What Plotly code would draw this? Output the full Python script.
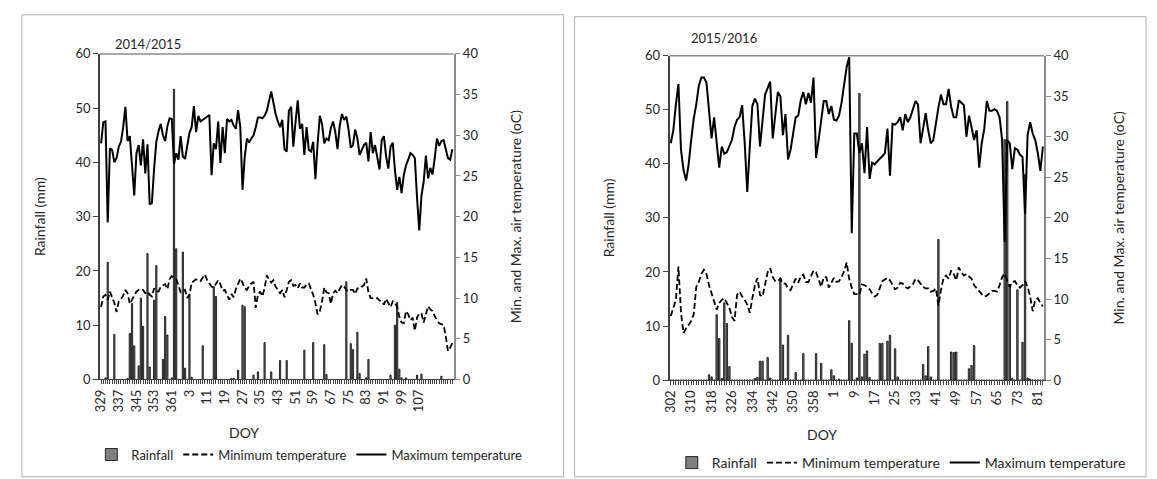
import plotly.graph_objects as go

W, H = 1157, 479

# ---------------- data: season 2014/2015 ----------------
doy1 = list(range(329, 367)) + list(range(1, 123))
xticks1 = [329, 337, 345, 353, 361, 3, 11, 19, 27, 35, 43, 51, 59, 67, 75, 83, 91, 99, 107]

rain1 = [0, 0, 0.3, 21.6, 0, 0, 8.3, 0, 0, 0,
         0, 0, 0.2, 8.5, 14.0, 6.2, 0, 2.5, 15.0, 9.8,
         0, 23.2, 2.3, 0, 14.6, 21.0, 0, 0, 3.7, 11.6,
         8.2, 0, 0.3, 53.5, 24.1, 0, 0, 23.5, 2.1, 0,
         15.5, 0.4, 0, 0, 0, 0, 6.2, 0, 0, 0,
         0, 17.1, 15.3, 0, 0, 0, 0, 0, 0, 0.2,
         0.2, 0, 1.7, 0, 13.7, 13.4, 0, 0, 0, 0.8,
         0, 1.4, 0, 0, 6.8, 0, 0, 1.4, 0, 0,
         0, 3.5, 0, 0, 3.5, 0, 0, 0, 0, 0,
         0, 0, 5.4, 0, 0, 0, 6.8, 0, 0, 0,
         0, 6.4, 0.9, 0, 0, 0, 0, 0, 0, 0,
         0, 18.0, 0, 6.6, 5.5, 0, 8.7, 1.1, 0, 0,
         0.3, 3.7, 0, 0, 0, 0, 0, 0, 0, 0,
         0, 0.8, 0, 10.0, 14.2, 1.9, 0.3, 0, 0.3, 0,
         0, 0, 0, 0.8, 0, 1.0, 0, 0, 0, 0,
         0, 0, 0, 0, 0.6, 0, 0, 0, 0, 0]

tmin1 = [8.9, 10.2, 10.4, 9.8, 10.8, 10.2, 9.4, 8.3, 9.6, 9.9,
         10.3, 11.0, 10.6, 9.3, 9.8, 10.4, 10.8, 11.0, 11.1, 11.0,
         10.6, 10.8, 10.4, 10.2, 11.2, 10.9, 10.8, 11.4, 11.6, 11.7,
         11.1, 12.3, 12.7, 12.5, 12.3, 11.6, 10.7, 10.8, 11.0, 10.0,
         10.4, 11.9, 12.1, 12.3, 12.2, 12.1, 12.5, 12.9, 12.2, 11.8,
         11.4, 11.3, 11.8, 12.2, 11.7, 10.9, 11.0, 10.4, 9.8, 10.5,
         10.1, 11.1, 11.8, 12.4, 11.9, 11.2, 11.0, 11.5, 11.8, 12.0,
         8.8, 10.4, 10.8, 10.2, 11.2, 12.8, 12.3, 11.9, 12.2, 11.4,
         11.0, 10.6, 11.0, 10.1, 11.0, 12.0, 12.2, 11.5, 11.6, 11.2,
         11.8, 11.3, 11.3, 11.7, 11.8, 11.2, 10.4, 9.4, 8.0, 8.4,
         9.6, 11.3, 10.7, 10.6, 9.3, 10.6, 10.9, 10.6, 11.1, 11.6,
         11.4, 11.0, 10.8, 11.0, 11.0, 10.5, 11.2, 11.2, 11.4, 11.6,
         12.4, 10.7, 10.0, 10.0, 9.9, 10.0, 9.7, 9.6, 9.2, 9.9,
         9.4, 8.9, 9.6, 9.4, 8.9, 7.7, 7.0, 6.9, 8.4, 8.0,
         7.3, 7.6, 6.0, 7.6, 8.1, 8.1, 7.0, 8.0, 9.0, 8.6,
         8.4, 7.8, 7.3, 6.9, 6.8, 6.7, 5.3, 3.5, 3.9, 4.5]

tmax1 = [29.0, 31.6, 31.7, 19.3, 28.4, 28.2, 26.7, 27.2, 28.6, 29.2,
         31.0, 33.5, 29.3, 29.9, 26.3, 22.6, 27.8, 28.8, 26.3, 29.5,
         25.3, 28.9, 21.5, 21.7, 25.9, 29.2, 30.5, 31.4, 30.0, 29.3,
         31.1, 32.1, 32.0, 26.5, 27.8, 27.0, 29.9, 27.4, 27.1, 29.0,
         30.3, 31.0, 33.6, 30.4, 32.4, 31.7, 31.9, 32.1, 32.3, 32.5,
         25.1, 29.0, 28.3, 31.7, 26.6, 31.0, 27.8, 32.0, 31.7, 31.9,
         31.2, 30.8, 33.1, 31.0, 23.3, 27.3, 29.6, 29.1, 29.6, 30.0,
         31.0, 32.2, 32.2, 32.1, 32.4, 33.0, 34.2, 35.4, 34.0, 32.6,
         31.7, 31.0, 31.9, 28.3, 28.0, 33.0, 33.5, 28.6, 31.6, 34.3,
         30.8, 31.4, 27.6, 31.0, 28.2, 28.0, 29.2, 24.6, 29.0, 32.4,
         31.4, 29.0, 29.6, 29.4, 30.9, 31.7, 30.4, 28.3, 31.2, 32.6,
         31.9, 32.3, 30.7, 28.5, 28.8, 30.7, 29.6, 27.6, 28.2, 28.8,
         29.1, 26.8, 30.4, 27.8, 28.8, 27.2, 25.8, 29.4, 29.9, 27.4,
         25.9, 28.6, 29.1, 25.7, 23.3, 24.9, 22.9, 25.1, 26.3, 27.0,
         27.8, 27.6, 27.2, 22.3, 18.3, 22.6, 24.3, 27.5, 24.7, 26.0,
         25.2, 27.2, 29.6, 28.7, 29.3, 29.4, 28.4, 27.2, 27.0, 28.3]

# ---------------- data: season 2015/2016 ----------------
doy2 = list(range(302, 366)) + list(range(1, 84))
xticks2 = [302, 310, 318, 326, 334, 342, 350, 358, 1, 9, 17, 25, 33, 41, 49, 57, 65, 73, 81]

rain2 = [0, 0, 0, 0, 0, 0, 0, 0, 0, 0,
         0, 0, 0, 0, 0, 1.0, 0.6, 0, 12.1, 7.7,
         0.3, 14.3, 10.5, 2.5, 0, 0, 0, 0, 0, 0,
         0, 0, 0, 0.3, 0.5, 3.5, 3.5, 0, 4.2, 0.4,
         0, 0, 0, 18.9, 6.5, 0.3, 8.3, 0, 0, 1.4,
         0, 0, 4.9, 0, 0, 0, 0, 4.9, 0, 3.1,
         0, 0, 0, 1.9, 0.8, 0, 0.2, 0, 0, 0,
         11.0, 6.8, 0, 0.4, 53.0, 0.6, 4.8, 5.4, 0.5, 0,
         0, 0, 6.8, 6.8, 0, 7.2, 8.3, 0, 5.8, 0.6,
         0, 0, 0, 0, 0, 0, 0, 0, 0, 2.9,
         0.8, 6.2, 0.6, 0, 0, 26.0, 0, 0, 0, 0,
         5.2, 5.1, 5.2, 0, 0, 0, 0, 2.1, 2.7, 6.4,
         0, 0, 0, 0, 0, 0, 0, 0, 0, 0,
         0, 44.5, 51.5, 17.6, 0.3, 0, 16.7, 0, 7.0, 38.0,
         0.4, 0.2, 0, 0, 0, 0, 0]

tmin2 = [7.9, 8.9, 9.9, 14.0, 8.3, 5.8, 6.4, 6.8, 7.3, 8.1,
         11.5, 12.1, 13.1, 13.6, 13.1, 11.7, 10.7, 9.7, 8.7, 9.5,
         9.9, 10.1, 9.5, 8.9, 7.8, 7.3, 10.5, 10.9, 10.3, 9.9,
         9.3, 8.3, 10.1, 11.7, 12.6, 10.5, 10.3, 11.9, 13.3, 13.8,
         12.7, 12.2, 12.2, 12.5, 11.9, 11.9, 11.3, 11.1, 11.9, 12.5,
         12.0, 12.8, 13.0, 12.1, 12.1, 12.9, 13.5, 13.3, 12.5, 11.5,
         12.7, 12.7, 11.4, 12.1, 12.6, 12.1, 12.2, 12.7, 13.4, 14.5,
         12.5, 11.4, 10.6, 10.6, 10.5, 11.8, 11.7, 11.5, 11.2, 10.7,
         10.3, 10.5, 11.5, 12.2, 12.4, 12.6, 12.3, 11.8, 11.2, 11.4,
         12.0, 11.9, 11.5, 11.3, 11.5, 11.8, 12.5, 12.3, 11.9, 11.5,
         11.3, 11.3, 10.9, 11.0, 11.3, 9.2, 11.1, 12.6, 12.9, 12.5,
         13.5, 13.1, 12.3, 13.9, 13.3, 12.9, 13.1, 12.8, 12.5, 11.7,
         11.3, 10.9, 10.6, 10.3, 10.4, 10.7, 11.0, 11.0, 10.9, 11.7,
         12.7, 13.1, 12.3, 11.5, 12.1, 12.2, 11.7, 11.4, 11.7, 12.2,
         11.5, 10.3, 8.5, 9.9, 10.1, 9.5, 9.1]

tmax2 = [29.2, 30.8, 34.0, 36.5, 28.4, 25.9, 24.6, 26.6, 29.6, 32.2,
         34.0, 36.3, 37.3, 37.3, 36.7, 33.6, 29.8, 32.4, 29.0, 26.2,
         28.8, 27.9, 28.1, 28.8, 29.6, 31.2, 32.1, 32.4, 33.9, 29.2,
         23.2, 28.8, 33.8, 34.7, 34.0, 28.8, 32.2, 35.2, 36.0, 36.8,
         29.8, 32.8, 35.5, 35.0, 30.2, 32.8, 27.2, 28.4, 30.4, 32.4,
         32.6, 34.5, 35.5, 34.0, 35.4, 34.2, 37.3, 27.4, 29.6, 32.4,
         34.4, 34.4, 32.8, 33.8, 32.1, 32.0, 32.6, 34.2, 36.7, 38.6,
         39.8, 18.1, 30.4, 30.4, 28.0, 29.2, 25.5, 31.2, 24.8, 26.8,
         26.6, 27.0, 27.3, 27.6, 28.0, 31.0, 25.2, 31.6, 31.5, 31.8,
         32.4, 30.8, 32.8, 31.8, 32.4, 33.4, 34.4, 34.0, 29.2, 31.0,
         32.9, 30.8, 29.2, 29.6, 31.8, 33.6, 35.2, 34.0, 34.0, 35.9,
         33.7, 32.4, 32.4, 34.5, 34.2, 33.9, 30.0, 32.6, 31.2, 29.6,
         30.8, 26.2, 29.2, 31.0, 34.4, 33.2, 33.2, 33.4, 33.2, 32.4,
         29.6, 17.0, 29.6, 29.2, 26.0, 28.6, 28.4, 27.8, 27.5, 20.5,
         30.2, 31.8, 30.4, 29.6, 28.0, 25.8, 28.8]

season_titles = ["2014/2015", "2015/2016"]
series_names = ["Rainfall", "Minimum temperature", "Maximum temperature"]

# ---------------- styling ----------------
FONT = "Lato"
TXT = "#262626"
AX = "#404040"
GRAY_AX = "#8c8c8c"


def px(x):
    return x / W


def py(y):
    return 1 - y / H


fig = go.Figure()

panels = [
    dict(doy=doy1, ticks=xticks1, rain=rain1, tmin=tmin1, tmax=tmax1,
         xa="x", ya="y", ya2="y2", leg="legend"),
    dict(doy=doy2, ticks=xticks2, rain=rain2, tmin=tmin2, tmax=tmax2,
         xa="x2", ya="y3", ya2="y4", leg="legend2"),
]

for p in panels:
    xs = list(range(len(p["doy"])))
    fig.add_trace(go.Bar(
        x=xs, y=p["rain"], name=series_names[0], width=0.55,
        marker=dict(color="#808080", line=dict(color="#000000", width=0.8)),
        xaxis=p["xa"], yaxis=p["ya"], legend=p["leg"]))
    fig.add_trace(go.Scatter(
        x=xs, y=p["tmin"], name=series_names[1], mode="lines",
        line=dict(color="#000000", width=1.8, dash="6px,3px"),
        xaxis=p["xa"], yaxis=p["ya2"], legend=p["leg"]))
    fig.add_trace(go.Scatter(
        x=xs, y=p["tmax"], name=series_names[2], mode="lines",
        line=dict(color="#000000", width=2),
        xaxis=p["xa"], yaxis=p["ya2"], legend=p["leg"]))

# geometry (pixels)
geo = [
    dict(l=92.7, r=449.0, t=47.5, b=384.3, lstand=27, rstand=34),
    dict(l=666.7, r=1044.3, t=49.3, b=385.0, lstand=27, rstand=46),
]

tickfont = dict(family=FONT, size=13, color=TXT)
titlefont = dict(family=FONT, size=14, color=TXT)


def xaxis_cfg(doy, labels, g, anchor):
    n = len(doy)
    pos = [doy.index(d) for d in labels]
    return dict(
        domain=[px(g["l"]), px(g["r"])], anchor=anchor,
        range=[-0.5, n - 0.5], tickmode="array",
        tickvals=pos, ticktext=[str(d) for d in labels],
        tickangle=-90, ticks="outside", ticklen=4, tickcolor=AX,
        showline=True, linecolor=AX, linewidth=1,
        minor=dict(ticks="outside", ticklen=4, tickmode="linear", tick0=0, dtick=1,
                   tickcolor=AX, tickwidth=1, showgrid=False),
        showgrid=False, zeroline=False, tickfont=tickfont, fixedrange=True)


def yaxis_cfg(g, anchor, stand):
    return dict(
        domain=[py(g["b"]), py(g["t"])], anchor=anchor, range=[0, 60], dtick=10,
        ticks="outside", ticklen=5, tickcolor=AX, showline=True, linecolor=AX,
        linewidth=1.5, showgrid=False, zeroline=False, tickfont=tickfont,
        title=dict(text="Rainfall (mm)", font=titlefont, standoff=stand))


def yaxis2_cfg(g, anchor, over, stand):
    return dict(
        overlaying=over, side="right", anchor=anchor, range=[0, 40], dtick=5,
        ticks="outside", ticklen=5, tickcolor=GRAY_AX, showline=True,
        linecolor=GRAY_AX, linewidth=1.5, showgrid=False, zeroline=False,
        tickfont=tickfont,
        title=dict(text="Min. and Max. air temperature (oC)", font=titlefont, standoff=stand))


fig.update_layout(
    width=W, height=H, autosize=False,
    margin=dict(l=0, r=0, t=0, b=0),
    paper_bgcolor="white", plot_bgcolor="white",
    font=dict(family=FONT, color=TXT),
    xaxis=xaxis_cfg(doy1, xticks1, geo[0], "y"),
    yaxis=yaxis_cfg(geo[0], "x", geo[0]["lstand"]),
    yaxis2=yaxis2_cfg(geo[0], "x", "y", geo[0]["rstand"]),
    xaxis2=xaxis_cfg(doy2, xticks2, geo[1], "y3"),
    yaxis3=yaxis_cfg(geo[1], "x2", geo[1]["lstand"]),
    yaxis4=yaxis2_cfg(geo[1], "x2", "y3", geo[1]["rstand"]),
    legend=dict(orientation="h", x=px(84), y=py(462), xanchor="left", yanchor="middle",
                font=dict(family=FONT, size=13, color=TXT), bgcolor="rgba(0,0,0,0)",
                itemwidth=30, tracegroupgap=0, traceorder="normal"),
    legend2=dict(orientation="h", x=px(669), y=py(471), xanchor="left", yanchor="middle",
                 font=dict(family=FONT, size=14, color=TXT), bgcolor="rgba(0,0,0,0)",
                 itemwidth=30, tracegroupgap=0, traceorder="normal"),
    showlegend=True,
)

shapes = []
# outer panel frames
shapes.append(dict(type="rect", xref="paper", yref="paper", x0=px(14), x1=px(560),
                   y0=py(485), y1=py(7), line=dict(color="#b0b0b0", width=1)))
shapes.append(dict(type="rect", xref="paper", yref="paper", x0=px(571), x1=px(1147),
                   y0=py(485), y1=py(9), line=dict(color="#b0b0b0", width=1)))
# plot-area top borders
for g in geo:
    shapes.append(dict(type="line", xref="paper", yref="paper", x0=px(g["l"]), x1=px(g["r"]),
                       y0=py(g["t"]), y1=py(g["t"]), line=dict(color=GRAY_AX, width=1.5)))
fig.update_layout(shapes=shapes)

ann_font = dict(family=FONT, size=13, color=TXT)
annotations = [
    dict(text=season_titles[0], x=px(141), y=py(37), xref="paper", yref="paper",
         xanchor="center", yanchor="middle", showarrow=False, font=ann_font),
    dict(text=season_titles[1], x=px(722), y=py(31), xref="paper", yref="paper",
         xanchor="center", yanchor="middle", showarrow=False, font=ann_font),
    dict(text="DOY", x=px(238), y=py(439), xref="paper", yref="paper",
         xanchor="center", yanchor="middle", showarrow=False,
         font=dict(family=FONT, size=14, color=TXT)),
    dict(text="DOY", x=px(820), y=py(441), xref="paper", yref="paper",
         xanchor="center", yanchor="middle", showarrow=False,
         font=dict(family=FONT, size=14, color=TXT)),
]
fig.update_layout(annotations=annotations)

fig.write_html("out.html")
